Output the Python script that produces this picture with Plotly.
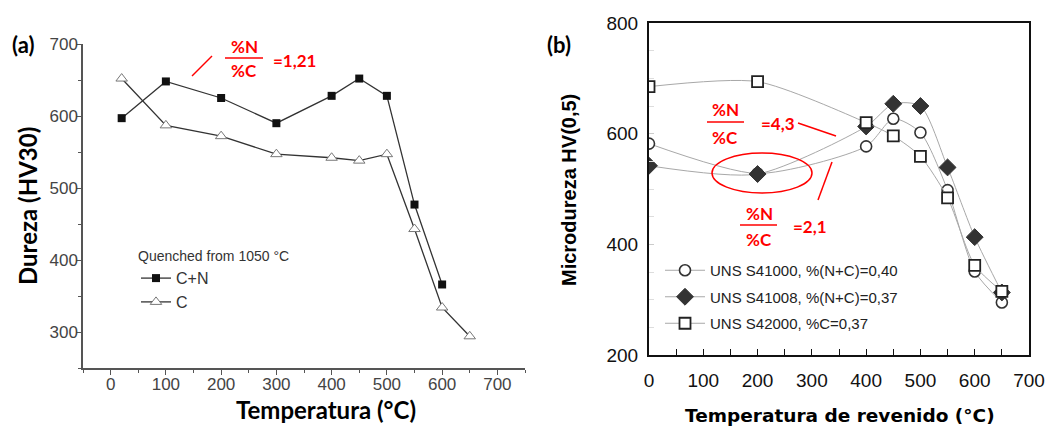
import plotly.graph_objects as go

W, H = 1064, 426

# ---------------- data ----------------
temp_a_cn = [20, 100, 200, 300, 400, 450, 500, 550, 600]
hv_cn = [597, 648, 625, 590, 628, 652, 628, 477, 366]
temp_a_c = [20, 100, 200, 300, 400, 450, 500, 550, 600, 650]
hv_c = [652, 587, 572, 547, 542, 538, 547, 443, 334, 294]

temp_b = [0, 200, 400, 450, 500, 550, 600, 650]
hv_s41000 = [582, 528, 577, 627, 602, 498, 351, 295]
hv_s41008 = [542, 527, 613, 654, 650, 539, 413, 313]
hv_s42000 = [685, 694, 620, 596, 559, 484, 362, 315]

names_b = ["UNS S41000, %(N+C)=0,40", "UNS S41008, %(N+C)=0,37", "UNS S42000, %C=0,37"]
names_a = ["C+N", "C"]

ticks_a_x = [0, 100, 200, 300, 400, 500, 600, 700]
ticks_a_y = [300, 400, 500, 600, 700]
ticks_b_x = [0, 100, 200, 300, 400, 500, 600, 700]
ticks_b_y = [200, 400, 600, 800]


def px(x):
    return x / W


def py(y):
    return 1 - y / H


fig = go.Figure()

# left panel
fig.add_trace(go.Scatter(x=temp_a_cn, y=hv_cn, name=names_a[0], mode="lines+markers",
                         line=dict(color="#333", width=1.3),
                         marker=dict(symbol="square", size=8, color="#111"),
                         xaxis="x", yaxis="y", legend="legend2"))
fig.add_trace(go.Scatter(x=temp_a_c, y=hv_c, name=names_a[1], mode="lines+markers",
                         line=dict(color="#333", width=1.3),
                         marker=dict(symbol="triangle-up", size=10, color="white",
                                     line=dict(color="#777", width=1)),
                         xaxis="x", yaxis="y", legend="legend2"))

# right panel
line_b = dict(color="#a8a8a8", width=1, shape="spline", smoothing=0.7)
fig.add_trace(go.Scatter(x=temp_b, y=hv_s41000, name=names_b[0], mode="lines+markers",
                         line=line_b,
                         marker=dict(symbol="circle", size=11, color="white",
                                     line=dict(color="#333", width=1.6)),
                         xaxis="x2", yaxis="y2", legend="legend", legendgroup="g1"))
fig.add_trace(go.Scatter(x=temp_b, y=hv_s41008, name=names_b[1], mode="lines+markers",
                         line=line_b,
                         marker=dict(symbol="diamond", size=13, color="#333",
                                     line=dict(color="#333", width=1)),
                         xaxis="x2", yaxis="y2", legend="legend", legendgroup="g2"))
fig.add_trace(go.Scatter(x=temp_b, y=hv_s42000, name=names_b[2], mode="lines+markers",
                         line=line_b,
                         marker=dict(symbol="square", size=11, color="white",
                                     line=dict(color="#222", width=1.8)),
                         xaxis="x2", yaxis="y2", legend="legend", legendgroup="g3"))

tickfont_a = dict(family="Liberation Sans, Arial", size=17, color="#444")
tickfont_b = dict(family="Liberation Sans, Arial", size=19, color="#111")

fig.update_layout(
    width=W, height=H,
    margin=dict(l=0, r=0, t=0, b=0, pad=0),
    paper_bgcolor="white", plot_bgcolor="white",
    xaxis=dict(domain=[px(83), px(525)], range=[-50, 750], tickvals=ticks_a_x,
               automargin=False, ticklabelstandoff=-5,
               ticks="outside", ticklen=5, tickcolor="#555", showline=True,
               linecolor="#555", linewidth=1.5, showgrid=False, zeroline=False,
               tickfont=tickfont_a,
               minor=dict(dtick=50, ticks="outside", ticklen=3, tickcolor="#555")),
    yaxis=dict(domain=[py(368), py(44)], range=[250, 700], tickvals=ticks_a_y,
               automargin=False, ticklabelstandoff=-5,
               ticks="outside", ticklen=5, tickcolor="#555", showline=True,
               linecolor="#555", linewidth=1.5, showgrid=False, zeroline=False,
               tickfont=tickfont_a,
               minor=dict(dtick=50, ticks="outside", ticklen=3, tickcolor="#555")),
    xaxis2=dict(domain=[px(649), px(1029)], range=[0, 700], tickvals=ticks_b_x,
                automargin=False, ticklabelstandoff=7,
                anchor="y2", ticks="inside", ticklen=6, tickcolor="#111",
                showline=True, linecolor="#111", linewidth=2, mirror=True,
                showgrid=False, zeroline=False, tickfont=tickfont_b,
                minor=dict(dtick=50, ticks="inside", ticklen=6, tickcolor="#111")),
    yaxis2=dict(domain=[py(355), py(23)], range=[200, 800], tickvals=ticks_b_y,
                automargin=False, ticklabelstandoff=5,
                anchor="x2", ticks="inside", ticklen=5, tickcolor="#ccc",
                showline=True, linecolor="#111", linewidth=2, mirror=True,
                showgrid=False, zeroline=False, tickfont=tickfont_b,
                minor=dict(dtick=50, ticks="inside", ticklen=5, tickcolor="#ddd")),
    legend=dict(x=px(660), y=py(254), xanchor="left", yanchor="top",
                bgcolor="rgba(0,0,0,0)", itemwidth=40,
                font=dict(family="Liberation Sans, Arial", size=15, color="#222"),
                traceorder="grouped", tracegroupgap=4),
    legend2=dict(x=px(136), y=py(243), xanchor="left", yanchor="top",
                 bgcolor="rgba(0,0,0,0)", itemwidth=30, tracegroupgap=0,
                 title=dict(text="Quenched from 1050 °C",
                            font=dict(family="Liberation Sans, Arial", size=14, color="#333")),
                 font=dict(family="Liberation Sans, Arial", size=16, color="#333")),
    showlegend=True,
)

red = "#ff0000"
afont = dict(family="Lato, Open Sans", size=17, color=red, weight="bold")
tfont = dict(family="Lato, Open Sans", size=24, color="#000", weight="bold")

ann = []


def text(x, y, t, font, **kw):
    ann.append(dict(x=px(x), y=py(y), xref="paper", yref="paper", text=t,
                    showarrow=False, font=font, xanchor=kw.get("xanchor", "center"),
                    yanchor="middle", textangle=kw.get("angle", 0)))


shapes = []


def seg(x0, y0, x1, y1, color=red, width=1.5):
    shapes.append(dict(type="line", xref="paper", yref="paper", x0=px(x0), y0=py(y0),
                       x1=px(x1), y1=py(y1), line=dict(color=color, width=width)))


# panel labels and titles
text(23, 44, "(a)", dict(family="Lato, Open Sans", size=22, color="#000", weight="bold"))
text(559, 44, "(b)", dict(family="Lato, Open Sans", size=22, color="#000", weight="bold"))
text(27, 206, "Dureza (HV30)", tfont, angle=-90)
text(326, 409, "Temperatura (°C)", tfont)
text(569, 190, "Microdureza HV(0,5)",
     dict(family="Liberation Sans, Arial", size=20, color="#000", weight="bold"), angle=-90)
text(840, 415, "Temperatura de revenido (°C)",
     dict(family="DejaVu Sans", size=18.5, color="#000", weight="bold"))

# fraction annotations
text(244, 46, "%N", afont)
seg(225, 58, 263, 58)
text(244, 71, "%C", afont)
text(294, 61, "=1,21", afont)
seg(192, 76, 212, 56)

text(725, 110, "%N", afont)
seg(707, 122, 744, 122)
text(725, 137, "%C", afont)
text(778, 123, "=4,3", afont)
seg(798, 123, 836, 136)

text(759, 213, "%N", afont)
seg(740, 225, 777, 225)
text(759, 239, "%C", afont)
text(810, 226, "=2,1", afont)
seg(832, 162, 818, 200)

shapes.append(dict(type="circle", xref="paper", yref="paper", x0=px(712), x1=px(812),
                   y0=py(193), y1=py(153), line=dict(color=red, width=1.5)))

fig.update_layout(annotations=ann, shapes=shapes)

fig.write_html("out.html")
